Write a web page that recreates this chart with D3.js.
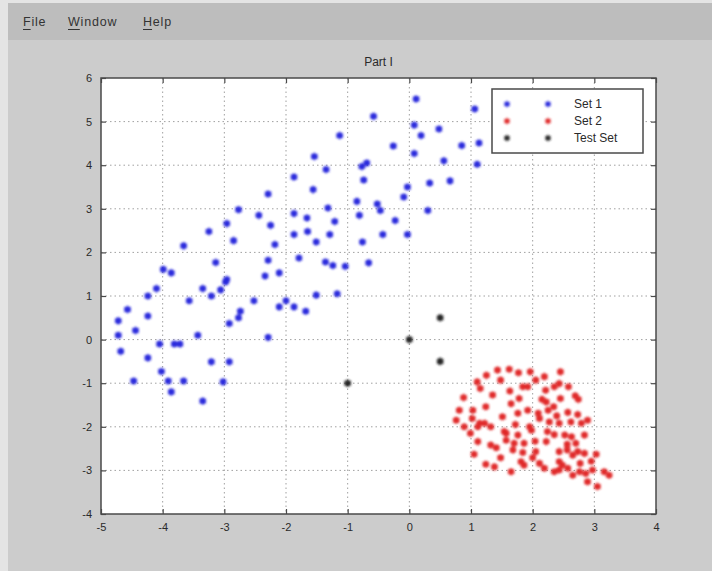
<!DOCTYPE html>
<html>
<head>
<meta charset="utf-8">
<script src="https://cdn.jsdelivr.net/npm/d3@7/dist/d3.min.js"></script>
<style>
  html, body { margin: 0; padding: 0; background: #cccccc; }
  svg { display: block; font-family: "Liberation Sans", Arial, sans-serif; }
</style>
</head>
<body>
<svg id="chart"></svg>
<script>
// data
const set1 = [
  [-1.87, 3.73], [-2.29, 3.34], [-2.77, 2.98], [-2.44, 2.85], [-1.87, 2.89],
  [-3.25, 2.48], [-2.96, 2.66], [-2.85, 2.27], [-2.25, 2.62], [-1.87, 2.41],
  [-3.66, 2.15], [-2.18, 2.18], [-3.14, 1.77], [-2.29, 1.82], [-1.79, 1.87],
  [-3.99, 1.61], [-3.86, 1.53], [-2.34, 1.46], [-2.11, 1.53], [-2.96, 1.38],
  [-2.98, 1.32], [-4.10, 1.17], [-3.35, 1.17], [-3.06, 1.14], [-4.24, 1.00],
  [-3.21, 1.00], [-3.57, 0.89], [-2.52, 0.89], [-2.00, 0.89], [-2.11, 0.75],
  [-1.87, 0.75], [-1.68, 0.65], [-4.57, 0.69], [-2.74, 0.65], [-2.77, 0.50],
  [-4.72, 0.43], [-4.24, 0.54], [-4.44, 0.21], [-2.92, 0.37], [-4.72, 0.10],
  [-4.68, -0.27], [-4.05, -0.10], [-3.81, -0.10], [-3.72, -0.10], [-3.43, 0.10],
  [-2.29, 0.05], [-4.24, -0.42], [-3.21, -0.51], [-2.92, -0.51], [-4.02, -0.73],
  [-3.91, -0.95], [-4.47, -0.95], [-3.66, -0.95], [-3.02, -0.97], [-3.86, -1.20],
  [-3.35, -1.41],
  [0.11, 5.52], [1.06, 5.29], [-0.58, 5.12], [0.08, 4.92], [0.48, 4.83],
  [0.19, 4.68], [-1.13, 4.68], [-0.26, 4.44], [0.85, 4.45], [1.13, 4.51],
  [0.08, 4.27], [-1.54, 4.20], [0.56, 4.10], [1.10, 4.02], [-0.77, 3.97],
  [-0.69, 4.05], [-1.35, 3.90], [-0.74, 3.66], [0.33, 3.59], [0.66, 3.64],
  [-0.03, 3.50], [-1.56, 3.44], [-0.09, 3.27], [-0.85, 3.17], [-0.52, 3.11],
  [-0.47, 2.96], [-1.32, 3.02], [0.30, 2.96], [-0.81, 2.85], [-1.66, 2.79],
  [-1.21, 2.71], [-0.23, 2.73], [-1.65, 2.48], [-1.29, 2.41], [-0.43, 2.41],
  [-0.03, 2.41], [-1.51, 2.24], [-0.76, 2.24], [-1.36, 1.78], [-1.24, 1.70],
  [-1.04, 1.68], [-0.66, 1.76], [-1.51, 1.02], [-1.17, 1.05]
]
const set2 = [
  [1.43, -0.70], [1.62, -0.68], [1.77, -0.76], [1.96, -0.74], [2.19, -0.85],
  [2.45, -0.74], [1.25, -0.82], [1.48, -0.93], [2.05, -0.93], [1.10, -0.97],
  [1.84, -1.08], [1.92, -1.08], [2.43, -1.01], [2.58, -1.08], [1.15, -1.12],
  [1.63, -1.18], [1.35, -1.27], [2.21, -1.16], [0.88, -1.33], [1.78, -1.35],
  [2.15, -1.37], [2.45, -1.35], [2.69, -1.29], [2.74, -1.37], [1.24, -1.54],
  [1.65, -1.47], [1.03, -1.62], [0.81, -1.62], [1.51, -1.77], [1.76, -1.69],
  [1.92, -1.62], [2.09, -1.69], [2.25, -1.62], [2.34, -1.54], [2.39, -1.75],
  [2.57, -1.67], [2.73, -1.72], [0.76, -1.85], [1.02, -1.81], [0.89, -2.00],
  [1.14, -1.92], [1.32, -2.00], [1.54, -2.11], [1.72, -1.95], [1.95, -2.00],
  [1.98, -2.08], [2.27, -1.89], [2.43, -1.92], [2.62, -1.89], [2.79, -1.92],
  [2.89, -1.85], [0.99, -2.15], [1.11, -2.34], [1.57, -2.31], [1.76, -2.19],
  [2.24, -2.11], [2.35, -2.18], [2.52, -2.19], [2.63, -2.23], [2.84, -2.19],
  [1.32, -2.42], [1.41, -2.48], [1.70, -2.38], [2.04, -2.33], [2.22, -2.34],
  [2.56, -2.40], [2.70, -2.38], [1.05, -2.63], [1.48, -2.71], [1.68, -2.53],
  [1.84, -2.59], [2.05, -2.57], [2.43, -2.57], [2.56, -2.53], [2.65, -2.65],
  [2.73, -2.57], [2.84, -2.61], [3.03, -2.63], [1.24, -2.86], [1.81, -2.80],
  [2.00, -2.71], [2.43, -2.80], [2.48, -2.88], [2.77, -2.84], [2.95, -2.79],
  [1.65, -3.03], [1.86, -2.88], [2.19, -2.95], [2.35, -3.03], [2.43, -2.99],
  [2.65, -3.11], [2.76, -3.03], [2.86, -3.07], [2.97, -2.99], [3.16, -3.03],
  [3.24, -3.11], [2.89, -3.26], [3.05, -3.37], [2.57, -2.95], [1.57, -2.15],
  [2.22, -1.43], [2.11, -1.81], [1.86, -2.38], [1.11, -2.00], [1.38, -2.92],
  [2.11, -2.84], [2.35, -1.08], [1.22, -1.92]
]
const testSet = [[-1, -1], [0, 0], [0.5, 0.5], [0.5, -0.5]]
const xTicks = [-5, -4, -3, -2, -1, 0, 1, 2, 3, 4]
const yTicks = [-4, -3, -2, -1, 0, 1, 2, 3, 4, 5, 6]
const legendLabels = ['Set 1', 'Set 2', 'Test Set']
const menuItems = ['File', 'Window', 'Help']

const width = 712
const height = 571
const plot = { left: 101, right: 656, top: 78, bottom: 514 }
const colors = { set1: '#2828dc', set2: '#e02828', test: '#222222' }
const axisColor = '#4a4a4a'

const svg = d3.select('#chart').attr('width', width).attr('height', height)

// window chrome
svg.append('rect').attr('width', width).attr('height', height).attr('fill', '#cccccc')
svg.append('rect').attr('x', 0).attr('y', 0).attr('width', width).attr('height', 40).attr('fill', '#bdbdbd')
svg.append('rect').attr('x', 0).attr('y', 0).attr('width', width).attr('height', 3).attr('fill', '#e4e4e4')
svg.append('rect').attr('x', 0).attr('y', 0).attr('width', 8).attr('height', height).attr('fill', '#e4e4e4')

const menuX = [23, 68, 143]
menuItems.forEach((m, i) => {
  svg.append('text')
    .attr('x', menuX[i]).attr('y', 26)
    .attr('font-size', 12.5).attr('letter-spacing', 0.8).attr('fill', '#333')
    .text(m)
  const fw = svg.append('text').attr('font-size', 12.5).text(m[0])
  const firstW = fw.node().getComputedTextLength()
  fw.remove()
  svg.append('line')
    .attr('x1', menuX[i]).attr('x2', menuX[i] + firstW)
    .attr('y1', 29.5).attr('y2', 29.5)
    .attr('stroke', '#333').attr('stroke-width', 1)
})

// axes area
const x = d3.scaleLinear().domain([-5, 4]).range([plot.left, plot.right])
const y = d3.scaleLinear().domain([-4, 6]).range([plot.bottom, plot.top])

svg.append('rect')
  .attr('x', plot.left).attr('y', plot.top)
  .attr('width', plot.right - plot.left).attr('height', plot.bottom - plot.top)
  .attr('fill', '#ffffff')

// grid
const grid = svg.append('g').attr('class', 'grid')
grid.selectAll('.gx').data(xTicks.slice(1, -1)).enter().append('line')
  .attr('x1', d => x(d)).attr('x2', d => x(d))
  .attr('y1', plot.top).attr('y2', plot.bottom)
grid.selectAll('.gy').data(yTicks.slice(1, -1)).enter().append('line')
  .attr('x1', plot.left).attr('x2', plot.right)
  .attr('y1', d => y(d)).attr('y2', d => y(d))
grid.selectAll('line')
  .attr('stroke', '#a0a0a0').attr('stroke-width', 1)
  .attr('stroke-dasharray', '1.5,3')

// axes with inward ticks
const tickLen = 5
const fmt = d => d < 0 ? '-' + Math.abs(d) : String(d)
const xBottom = d3.axisBottom(x).tickValues(xTicks).tickSizeInner(-tickLen).tickSizeOuter(0).tickPadding(9).tickFormat(fmt)
const xTop = d3.axisTop(x).tickValues(xTicks).tickSizeInner(-tickLen).tickSizeOuter(0).tickFormat('')
const yLeft = d3.axisLeft(y).tickValues(yTicks).tickSizeInner(-tickLen).tickSizeOuter(0).tickPadding(9).tickFormat(fmt)
const yRight = d3.axisRight(y).tickValues(yTicks).tickSizeInner(-tickLen).tickSizeOuter(0).tickFormat('')

svg.append('g').attr('class', 'axis').attr('transform', `translate(0,${plot.bottom})`).call(xBottom)
svg.append('g').attr('class', 'axis').attr('transform', `translate(0,${plot.top})`).call(xTop)
svg.append('g').attr('class', 'axis').attr('transform', `translate(${plot.left},0)`).call(yLeft)
svg.append('g').attr('class', 'axis').attr('transform', `translate(${plot.right},0)`).call(yRight)

svg.selectAll('.axis .domain').remove()
svg.selectAll('.axis line').attr('stroke', axisColor).attr('stroke-width', 1.2)
svg.selectAll('.axis text')
  .attr('font-size', 11).attr('fill', '#2a2a2a')
  .attr('font-family', '"Liberation Sans", Arial, sans-serif')

svg.append('rect')
  .attr('x', plot.left).attr('y', plot.top)
  .attr('width', plot.right - plot.left).attr('height', plot.bottom - plot.top)
  .attr('fill', 'none').attr('stroke', axisColor).attr('stroke-width', 1.5)

// title
svg.append('text')
  .attr('x', (plot.left + plot.right) / 2).attr('y', 66)
  .attr('text-anchor', 'middle').attr('font-size', 12).attr('fill', '#2a2a2a')
  .text('Part I')

// markers: soft asterisk blobs
const defs = svg.append('defs')
defs.append('filter').attr('id', 'soft')
  .attr('x', '-50%').attr('y', '-50%').attr('width', '200%').attr('height', '200%')
  .append('feGaussianBlur').attr('stdDeviation', 0.9)

const star = d3.symbol().type(d3.symbolAsterisk).size(40)

function drawMarkers (data, color, cls) {
  const g = svg.append('g').attr('class', cls).attr('filter', 'url(#soft)')
  const item = g.selectAll('g').data(data).enter().append('g')
    .attr('transform', d => `translate(${x(d[0])},${y(d[1])})`)
  item.append('circle').attr('r', 3.3).attr('fill', color).attr('opacity', 0.9)
  item.append('path').attr('d', star()).attr('stroke', color).attr('stroke-width', 1.2).attr('fill', 'none')
}

drawMarkers(set1, colors.set1, 'set1')
drawMarkers(set2, colors.set2, 'set2')
drawMarkers(testSet, colors.test, 'test')

// legend
const legend = svg.append('g').attr('class', 'legend')
const lg = { x: 492, y: 89, w: 151, h: 64 }
legend.append('rect')
  .attr('x', lg.x).attr('y', lg.y).attr('width', lg.w).attr('height', lg.h)
  .attr('fill', '#ffffff').attr('stroke', axisColor).attr('stroke-width', 1.5)
const legendColors = [colors.set1, colors.set2, colors.test]
legendLabels.forEach((label, i) => {
  const ly = 104 + i * 17
  const row = legend.append('g').attr('filter', 'url(#soft)')
  ;[507, 548].forEach(mx => {
    row.append('circle').attr('cx', mx).attr('cy', ly).attr('r', 2.6).attr('fill', legendColors[i]).attr('opacity', 0.85)
    row.append('path').attr('d', d3.symbol().type(d3.symbolAsterisk).size(30)())
      .attr('transform', `translate(${mx},${ly})`)
      .attr('stroke', legendColors[i]).attr('stroke-width', 1.1).attr('fill', 'none')
  })
  legend.append('text')
    .attr('x', 574).attr('y', ly + 4)
    .attr('font-size', 12).attr('fill', '#2a2a2a')
    .text(label)
})
</script>
</body>
</html>
